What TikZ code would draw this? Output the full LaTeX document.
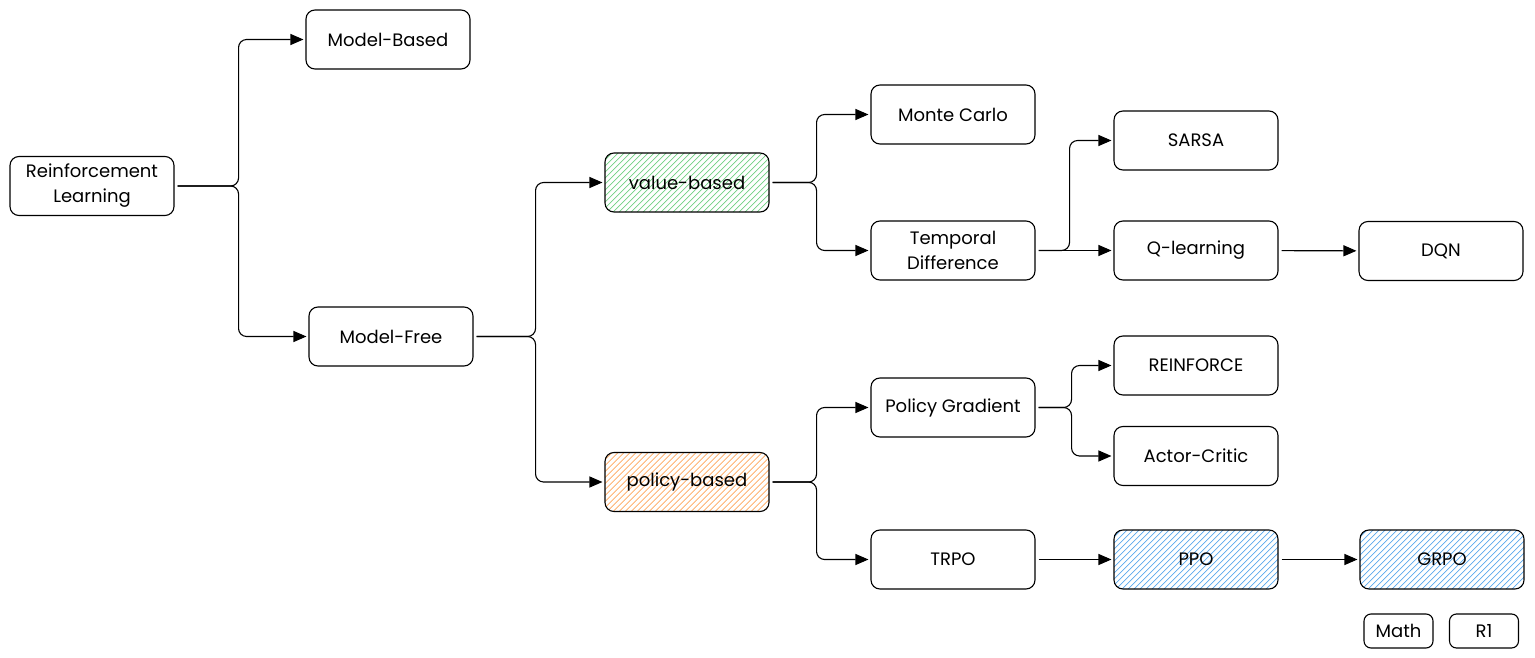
\documentclass[tikz,border=0pt]{standalone}
\usepackage{fontspec}
\setmainfont{Poppins}
\usepackage{tikz}
\usetikzlibrary{positioning,calc,arrows.meta}

\definecolor{hgreen}{RGB}{64,192,87}
\definecolor{horange}{RGB}{253,126,20}
\definecolor{hblue}{RGB}{34,139,230}

% hachure fill, clipped to the node outline
\tikzset{hatch/.style={path picture={
			\foreach \k in {-70,-64,...,170}
			\draw [#1, line width=0.7pt, rounded corners=0pt]
			($(path picture bounding box.south west)+(\k,0)$) -- ++(70,-70);}}}

\newcommand{\fork}[3]{\draw [link] (#1.east) -- ++(#3,0) |- (#2.west);}

\begin{document}
\begin{tikzpicture}[x=1pt, y=-1pt, semithick]
		\tikzstyle{box}=[draw=black, line width=1.1pt, rounded corners=9pt,
		minimum width=164pt, minimum height=59pt, align=center, inner sep=2pt,
		font=\fontsize{18}{25}\selectfont]
		\tikzstyle{tag}=[box, minimum width=69pt, minimum height=34pt, rounded corners=7pt]
		\tikzstyle{link}=[-{Triangle[length=13pt, width=11pt]}, line width=1.1pt,
		rounded corners=8pt, shorten <=3pt, shorten >=2pt]
		
		\useasboundingbox (0,0) rectangle (1535,658);
		
		\node [box] (rl) at (92,186) {Reinforcement\\Learning};
		
		\node [box] (mb) at (388,39.5) {Model-Based};
		\node [box] (mf) at (391,336.5) {Model-Free};
		
		\node [box, hatch=hgreen!75] (vb) at (687,182.5) {value-based};
		\node [box, hatch=horange!70] (pb) at (687,482) {policy-based};
		
		\node [box] (mc) at (953,114.5) {Monte Carlo};
		\node [box] (td) at (953,250.5) {Temporal\\Difference};
		\node [box] (pg) at (953,407.5) {Policy Gradient};
		\node [box] (trpo) at (953,559.5) {TRPO};
		
		\node [box] (sarsa) at (1196,140.5) {SARSA};
		\node [box] (ql) at ($(td)+(243,0)$) {Q-learning};
		\node [box] (dqn) at ($(ql)+(245,0.5)$) {DQN};
		
		\node [box] (rf) at (1196,365.5) {REINFORCE};
		\node [box] (ac) at (1196,456) {Actor-Critic};
		
		\node [box, hatch=hblue!75] (ppo) at ($(trpo)+(243,0)$) {PPO};
		\node [box, hatch=hblue!75] (grpo) at ($(ppo)+(246,0)$) {GRPO};
		
		\node [tag] (math) at (1398.5,631) {Math};
		\node [tag] (r1) at (1484,631) {R1};
		
		\fork{rl}{mb}{64} \fork{rl}{mf}{64}
		\fork{mf}{vb}{62} \fork{mf}{pb}{62}
		\fork{vb}{mc}{47} \fork{vb}{td}{47}
		\fork{td}{sarsa}{34} \draw [link] (td) to (ql);
		\fork{pb}{pg}{47} \fork{pb}{trpo}{47}
		\fork{pg}{rf}{36} \fork{pg}{ac}{36}
		\draw [link] (ql) to (dqn); \draw [link] (trpo) to (ppo);
		\draw [link] (ppo) to (grpo);
	\end{tikzpicture}
\end{document}
